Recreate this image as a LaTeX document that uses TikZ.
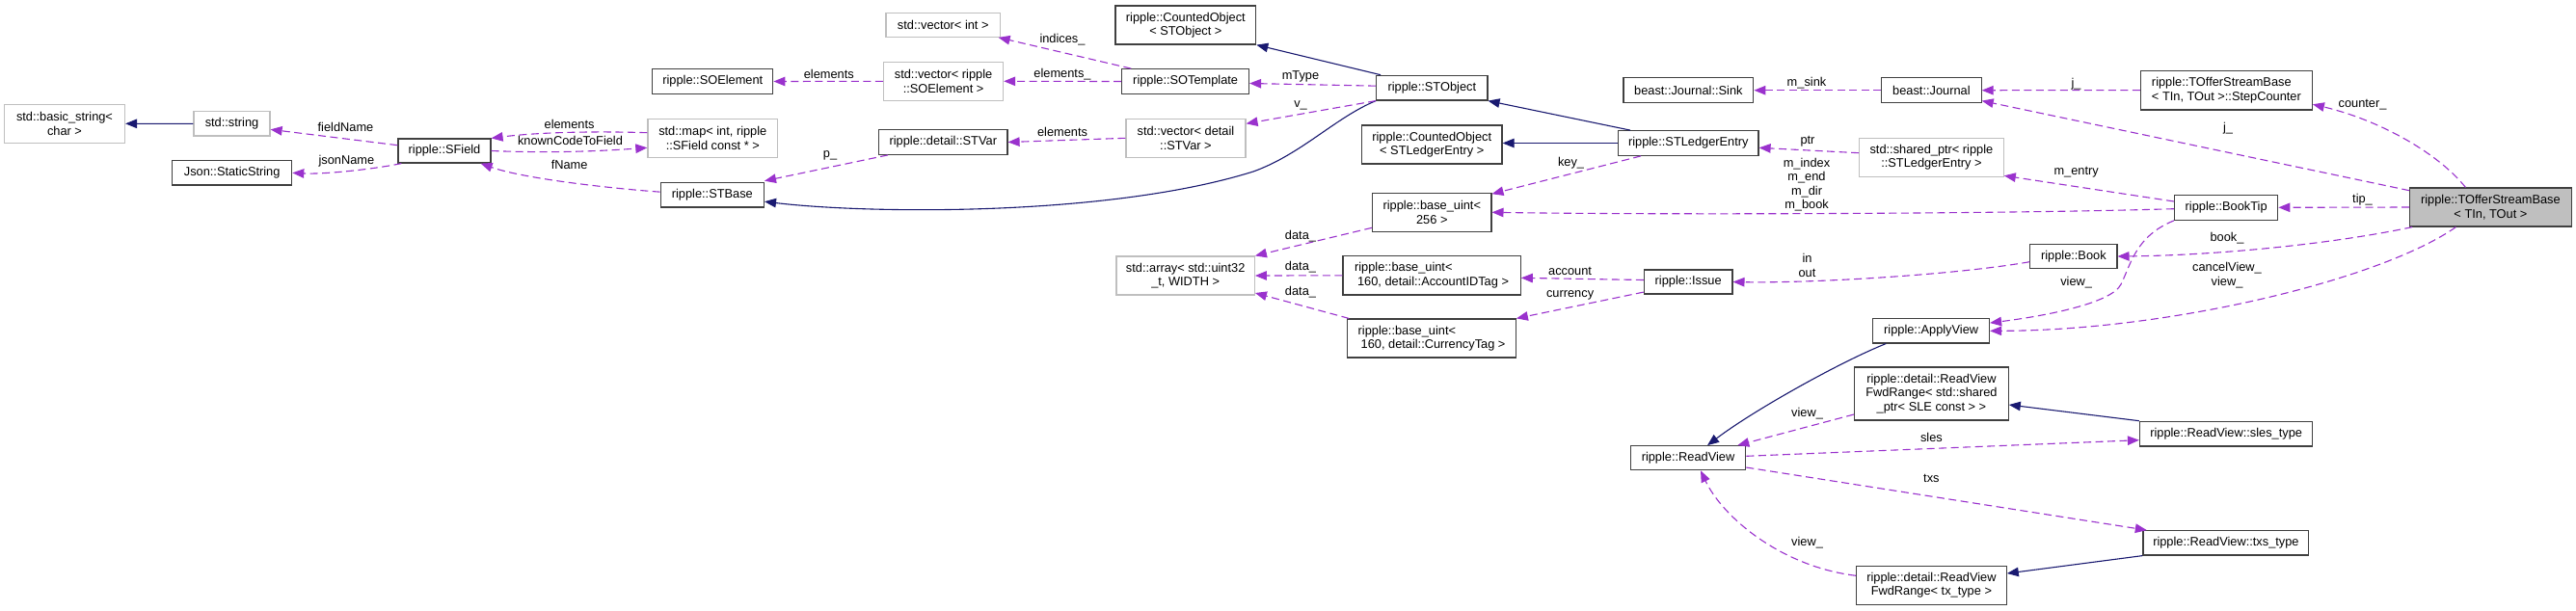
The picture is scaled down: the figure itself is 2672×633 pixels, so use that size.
\documentclass[tikz,border=0pt]{standalone}
\usepackage{fontspec}
\setmainfont{Liberation Sans}
\usetikzlibrary{arrows.meta}
\definecolor{edgepurple}{HTML}{9A32CD}
\definecolor{inhnavy}{HTML}{191970}
\definecolor{graybd}{HTML}{BFBFBF}
\definecolor{mainfill}{HTML}{BFBFBF}
\definecolor{boxbd}{HTML}{404040}
\begin{document}
\begin{tikzpicture}[x=1pt,y=-1pt,
  every node/.style={font=\fontsize{12.8}{14.5}\selectfont, inner sep=0pt},
  cls/.style={draw=boxbd, line width=1.2pt, fill=white, align=center},
  ext/.style={draw=graybd, line width=1.2pt, fill=white, align=center},
  lbl/.style={align=center},
  uses/.style={draw=edgepurple, line width=1.1pt, dash pattern=on 8pt off 4.5pt,
    -{Triangle[length=12pt,width=9.5pt,fill=edgepurple]}},
  inh/.style={draw=inhnavy, line width=1.1pt,
    -{Triangle[length=12pt,width=9.5pt,fill=inhnavy]}}]
\useasboundingbox (0,0) rectangle (2672,633);
\fill[white] (0,0) rectangle (2672,633);

% nodes
\node[ext, minimum width=125pt, minimum height=40pt] (bstr) at (67,128.3) {std::basic\_string<\\char >};
\node[ext, minimum width=79pt, minimum height=25.3pt] (str) at (240.5,128.35) {std::string};
\node[cls, minimum width=124.1pt, minimum height=25.3pt] (json) at (240.65,179.35) {Json::StaticString};
\node[cls, minimum width=96pt, minimum height=25pt] (sfield) at (461,156.5) {ripple::SField};
\node[ext, minimum width=134.8pt, minimum height=40pt] (smap) at (739.3,143.3) {std::map< int, ripple\\::SField const * >};
\node[cls, minimum width=125pt, minimum height=25.6pt] (soel) at (739.3,84.5) {ripple::SOElement};
\node[ext, minimum width=124.1pt, minimum height=40pt] (vsoel) at (978.55,84.3) {std::vector< ripple\\::SOElement >};
\node[ext, minimum width=118.5pt, minimum height=25pt] (vint) at (978.25,25.8) {std::vector< int >};
\node[cls, minimum width=145.7pt, minimum height=40pt] (cobj) at (1229.85,26) {ripple::CountedObject\\< STObject >};
\node[cls, minimum width=131.7pt, minimum height=25.6pt] (sotpl) at (1229.65,84.5) {ripple::SOTemplate};
\node[cls, minimum width=133.4pt, minimum height=25.6pt] (stvar) at (978.3,147.5) {ripple::detail::STVar};
\node[ext, minimum width=124.1pt, minimum height=40pt] (vstvar) at (1229.95,143.3) {std::vector< detail\\::STVar >};
\node[cls, minimum width=107.1pt, minimum height=25.7pt] (stbase) at (738.85,202.15) {ripple::STBase};
\node[ext, minimum width=143.3pt, minimum height=40pt] (starray) at (1229.65,286) {std::array< std::uint32\\\_t, WIDTH >};
\node[cls, minimum width=115.2pt, minimum height=25.7pt] (stobj) at (1485.3,91.15) {ripple::STObject};
\node[cls, minimum width=134.9pt, minimum height=26pt] (sink) at (1751.35,93.7) {beast::Journal::Sink};
\node[cls, minimum width=145.5pt, minimum height=40pt] (cole) at (1485.25,150) {ripple::CountedObject\\< STLedgerEntry >};
\node[cls, minimum width=145.4pt, minimum height=25.6pt] (stle) at (1751.3,148.5) {ripple::STLedgerEntry};
\node[ext, minimum width=149.6pt, minimum height=40pt] (sptr) at (2003.4,163.3) {std::shared\_ptr< ripple\\::STLedgerEntry >};
\node[cls, minimum width=123.2pt, minimum height=40pt] (bu256) at (1485.3,220.3) {ripple::base\_uint<\\256 >};
\node[cls, minimum width=184.3pt, minimum height=40.3pt, align=left] (buacc) at (1485.05,285.85) {ripple::base\_uint<\\\hspace*{3pt}160, detail::AccountIDTag >};
\node[cls, minimum width=91.5pt, minimum height=25pt] (issue) at (1751.15,292.5) {ripple::Issue};
\node[cls, minimum width=174.5pt, minimum height=40pt, align=left] (bucur) at (1485.05,351) {ripple::base\_uint<\\\hspace*{3pt}160, detail::CurrencyTag >};
\node[cls, minimum width=103.4pt, minimum height=26pt] (journal) at (2003.4,93.7) {beast::Journal};
\node[cls, minimum width=177.8pt, minimum height=40.7pt, align=left] (stepc) at (2309.4,93.65) {ripple::TOfferStreamBase\\< TIn, TOut >::StepCounter};
\node[cls, minimum width=107.3pt, minimum height=26pt] (booktip) at (2309.15,215.3) {ripple::BookTip};
\node[cls, fill=mainfill, minimum width=167.4pt, minimum height=40pt] (main) at (2583.4,215) {ripple::TOfferStreamBase\\< TIn, TOut >};
\node[cls, minimum width=90.1pt, minimum height=25.4pt] (book) at (2150.85,266) {ripple::Book};
\node[cls, minimum width=120.7pt, minimum height=25.3pt] (applyview) at (2003.15,343.35) {ripple::ApplyView};
\node[cls, minimum width=159.6pt, minimum height=55pt] (fwdsle) at (2003.4,408.5) {ripple::detail::ReadView\\FwdRange< std::shared\\\_ptr< SLE const > >};
\node[cls, minimum width=119.4pt, minimum height=25pt] (readview) at (1751,475.2) {ripple::ReadView};
\node[cls, minimum width=179.3pt, minimum height=25.7pt] (slestype) at (2309.15,450.15) {ripple::ReadView::sles\_type};
\node[cls, minimum width=171.8pt, minimum height=25.3pt] (txstype) at (2308.9,563.35) {ripple::ReadView::txs\_type};
\node[cls, minimum width=155.6pt, minimum height=40pt] (fwdtx) at (2003.4,607.3) {ripple::detail::ReadView\\FwdRange< tx\_type >};

% inheritance edges
\draw[inh] (str.west) -- (bstr.east);
\draw[inh] ([xshift=5pt]stobj.north west) -- (cobj.south east);
\draw[inh] (stobj.south west) .. controls (1385,122) and (1350,160) .. (1300,178)
   .. controls (1150,225) and (900,222) .. ([yshift=-7pt]stbase.east);
\draw[inh] ([xshift=13pt]stle.north west) -- (stobj.south east);
\draw[inh] (stle.west) -- (cole.east |- stle.west);
\draw[inh] ([xshift=14pt]applyview.south west) .. controls (1910,375) and (1820,425) .. ([xshift=20pt]readview.north);
\draw[inh] (slestype.north west) -- ([yshift=-11.5pt]fwdsle.east);
\draw[inh] (txstype.south west) -- ([yshift=12.3pt]fwdtx.east);

% usage edges
\draw[uses] ([yshift=5.8pt]sfield.west) -- ([yshift=-6pt]str.east);
\draw[uses] ([xshift=4pt]sfield.south west) .. controls (385,176) and (335,181) .. (json.east);
\draw[uses] ([yshift=5.6pt]smap.west) .. controls (620,136) and (560,137) .. (sfield.north east);
\draw[uses] (sfield.east) .. controls (570,159) and (620,157) .. ([yshift=-10pt]smap.west);
\draw[uses] ([yshift=3pt]stbase.west) .. controls (640,196) and (545,186) .. ([xshift=-11pt]sfield.south east);
\draw[uses] ([xshift=10pt]sotpl.north west) -- ([xshift=-2.5pt]vint.south east);
\draw[uses] (sotpl.west) -- (vsoel.east);
\draw[uses] (vsoel.west) -- (soel.east);
\draw[uses] ([yshift=2pt]stobj.west) -- ([yshift=-2pt]sotpl.east);
\draw[uses] (stobj.south west) -- ([yshift=15pt]vstvar.east);
\draw[uses] (vstvar.west) -- (stvar.east);
\draw[uses] ([xshift=10pt]stvar.south west) -- ([yshift=1pt]stbase.north east);
\draw[uses] ([xshift=24pt]stle.south west) -- ([yshift=-1.5pt]bu256.north east);
\draw[uses] (journal.west) -- (sink.east);
\draw[uses] (stepc.west) -- (journal.east);
\draw[uses] ([yshift=4.6pt]sptr.west) -- ([yshift=-4.8pt]stle.east);
\draw[uses] ([yshift=-1.4pt]booktip.west) .. controls (2080,222) and (1720,223) .. (bu256.east);
\draw[uses] ([yshift=-16pt]bu256.west) -- (starray.north east);
\draw[uses] (buacc.west) -- (starray.east);
\draw[uses] ([xshift=2pt]bucur.north west) -- ([yshift=-18pt]starray.east);
\draw[uses] ([yshift=2pt]issue.west) -- ([yshift=-2.5pt]buacc.east);
\draw[uses] ([yshift=2.5pt]issue.south west) -- (bucur.north east);
\draw[uses] ([yshift=-5.7pt]book.west) .. controls (2030,285) and (1880,294) .. (issue.east);
\draw[uses] ([yshift=6.3pt]booktip.west) -- ([yshift=1.6pt]sptr.south east);
\draw[uses] (main.west) -- (booktip.east);
\draw[uses] ([yshift=-3.3pt]main.north west) -- ([yshift=2.7pt]journal.south east);
\draw[uses] ([xshift=-26pt]main.north) .. controls (2530,160) and (2470,125) .. ([yshift=-14.6pt]stepc.east);
\draw[uses] ([xshift=3pt]main.south west) .. controls (2420,253) and (2300,265) .. (book.east);
\draw[uses] ([xshift=-36pt]main.south) .. controls (2470,290) and (2250,343) .. (applyview.east);
\draw[uses] (booktip.south west) .. controls (2215,245) and (2210,275) .. (2200,295)
   .. controls (2190,315) and (2120,328) .. ([yshift=8.3pt]applyview.east);
\draw[uses] ([yshift=-21.5pt]fwdsle.west) -- ([xshift=-9pt]readview.north east);
\draw[uses] ([yshift=1.9pt]readview.east) -- ([yshift=-6.5pt]slestype.west);
\draw[uses] ([yshift=-9.8pt]readview.east) -- ([xshift=4.4pt]txstype.north west);
\draw[uses] ([yshift=10pt]fwdtx.west) .. controls (1848,588) and (1787,537) .. ([xshift=13pt]readview.south);

% edge labels
\node[lbl] (lfield) at (358.5,132.3) {fieldName};
\node[lbl] (ljson) at (359.4,166.7) {jsonName};
\node[lbl] (lel1) at (590.6,129.3) {elements};
\node[lbl] (lkc) at (591.5,146) {knownCodeToField};
\node[lbl] (lfname) at (590.6,170.7) {fName};
\node[lbl] (lel2) at (859.8,76.7) {elements};
\node[lbl] (lind) at (1102,40.7) {indices\_};
\node[lbl] (lel3) at (1102,76.7) {elements\_};
\node[lbl] (lel4) at (1102,137.3) {elements};
\node[lbl] (lp) at (861,161.7) {p\_};
\node[lbl] (lmtype) at (1349,79) {mType};
\node[lbl] (lv) at (1349,109) {v\_};
\node[lbl] (lsink) at (1874,85.7) {m\_sink};
\node[lbl] (lptr) at (1875,146.7) {ptr};
\node[lbl] (lkey) at (1629.5,169) {key\_};
\node[lbl] (lmidx) at (1874,191.8) {m\_index\\m\_end\\m\_dir\\m\_book};
\node[lbl] (ld1) at (1349,245) {data\_};
\node[lbl] (ld2) at (1349,277.3) {data\_};
\node[lbl] (ld3) at (1349,302.7) {data\_};
\node[lbl] (lacc) at (1628.6,281.7) {account};
\node[lbl] (lcur) at (1628.6,306.7) {currency};
\node[lbl] (linout) at (1874.5,275.5) {in\\out};
\node[lbl] (lj1) at (2153.6,87.3) {j\_};
\node[lbl] (lcounter) at (2450.5,109) {counter\_};
\node[lbl] (lj2) at (2311,133.3) {j\_};
\node[lbl] (lentry) at (2153.6,179) {m\_entry};
\node[lbl] (ltip) at (2450.5,206.7) {tip\_};
\node[lbl] (lbook) at (2310,246.7) {book\_};
\node[lbl] (lcancel) at (2310,285.8) {cancelView\_\\view\_};
\node[lbl] (lview1) at (2153.6,293.3) {view\_};
\node[lbl] (lview2) at (1874.5,429) {view\_};
\node[lbl] (lview3) at (1874.5,562.7) {view\_};
\node[lbl] (lsles) at (2003.4,454.3) {sles};
\node[lbl] (ltxs) at (2003.4,496.7) {txs};
\end{tikzpicture}
\end{document}
